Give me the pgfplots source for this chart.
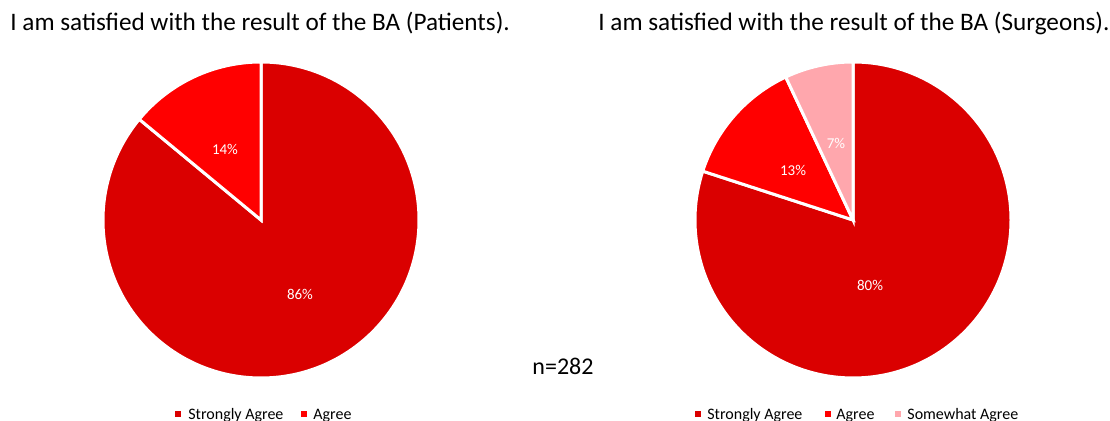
\documentclass[border=0pt]{standalone}
\usepackage{pgfplots}
\pgfplotsset{compat=1.18}
\usepackage{pgfplotstable}
\usepackage{fontspec}
\setmainfont{Carlito}
\definecolor{sa}{HTML}{DA0000}
\definecolor{ag}{HTML}{FF0000}
\definecolor{sw}{HTML}{FFA7AD}

\pgfplotstableread{
value
86
14
}\patients
\pgfplotstableread{
value
80
13
7
}\surgeons

\begin{document}%
\begin{tikzpicture}
\pgfplotstablegetelem{0}{value}\of\patients \let\pA\pgfplotsretval
\pgfplotstablegetelem{1}{value}\of\patients \let\pB\pgfplotsretval
\pgfplotstablegetelem{0}{value}\of\surgeons \let\sA\pgfplotsretval
\pgfplotstablegetelem{1}{value}\of\surgeons \let\sB\pgfplotsretval
\pgfplotstablegetelem{2}{value}\of\surgeons \let\sC\pgfplotsretval
\pgfmathsetmacro\pa{90-3.6*\pA}
\pgfmathsetmacro\pb{\pa-3.6*\pB}
\pgfmathsetmacro\sa{90-3.6*\sA}
\pgfmathsetmacro\sb{\sa-3.6*\sB}
\pgfmathsetmacro\sc{\sb-3.6*\sC}
\begin{axis}[
  x=0.5pt, y=0.5pt,
  xmin=0, xmax=1110, ymin=0, ymax=421,
  hide axis, clip=false, disabledatascaling,
  anchor=origin, at={(0,0)},
]
% left pie
\fill[sa, draw=white, line width=1.5pt] (axis cs:261,201) -- ++(90:79pt) arc[start angle=90, end angle=\pa, radius=79pt] -- cycle;
\fill[ag, draw=white, line width=1.5pt] (axis cs:261,201) -- ++(\pa:79pt) arc[start angle=\pa, end angle=\pb, radius=79pt] -- cycle;
% right pie
\fill[sa, draw=white, line width=1.5pt] (axis cs:853,201) -- ++(90:79pt) arc[start angle=90, end angle=\sa, radius=79pt] -- cycle;
\fill[ag, draw=white, line width=1.5pt] (axis cs:853,201) -- ++(\sa:79pt) arc[start angle=\sa, end angle=\sb, radius=79pt] -- cycle;
\fill[sw, draw=white, line width=1.5pt] (axis cs:853,201) -- ++(\sb:79pt) arc[start angle=\sb, end angle=\sc, radius=79pt] -- cycle;
% slice labels
\node[text=white, font=\fontsize{7.5}{8}\selectfont] at (axis cs:300,127) {86\%};
\node[text=white, font=\fontsize{7.5}{8}\selectfont] at (axis cs:225,272) {14\%};
\node[text=white, font=\fontsize{7.5}{8}\selectfont] at (axis cs:870,136) {80\%};
\node[text=white, font=\fontsize{7.5}{8}\selectfont] at (axis cs:793,251) {13\%};
\node[text=white, font=\fontsize{7.5}{8}\selectfont] at (axis cs:836,278) {7\%};
% titles
\node[anchor=base west, inner sep=0pt, font=\fontsize{12.6}{14}\selectfont] at (axis cs:10,390) {I am satisfied with the result of the BA (Patients).};
\node[anchor=base west, inner sep=0pt, font=\fontsize{12.6}{14}\selectfont] at (axis cs:598,390) {I am satisfied with the result of the BA (Surgeons).};
\node[font=\fontsize{12}{14}\selectfont] at (axis cs:563,55) {n=282};
% legends
\fill[sa] (axis cs:175,4) rectangle (axis cs:181,10);
\node[anchor=base west, inner sep=0pt, font=\fontsize{8}{9}\selectfont] at (axis cs:188,1.5) {Strongly Agree};
\fill[ag] (axis cs:301,4) rectangle (axis cs:307,10);
\node[anchor=base west, inner sep=0pt, font=\fontsize{8}{9}\selectfont] at (axis cs:313,1.5) {Agree};
\fill[sa] (axis cs:695,4) rectangle (axis cs:701,10);
\node[anchor=base west, inner sep=0pt, font=\fontsize{8}{9}\selectfont] at (axis cs:707,1.5) {Strongly Agree};
\fill[ag] (axis cs:825,4) rectangle (axis cs:831,10);
\node[anchor=base west, inner sep=0pt, font=\fontsize{8}{9}\selectfont] at (axis cs:836,1.5) {Agree};
\fill[sw] (axis cs:895,4) rectangle (axis cs:901,10);
\node[anchor=base west, inner sep=0pt, font=\fontsize{8}{9}\selectfont] at (axis cs:907,1.5) {Somewhat Agree};
\end{axis}
\pgfresetboundingbox
\useasboundingbox (0,0) rectangle (555pt,210.5pt);
\end{tikzpicture}%
\end{document}
